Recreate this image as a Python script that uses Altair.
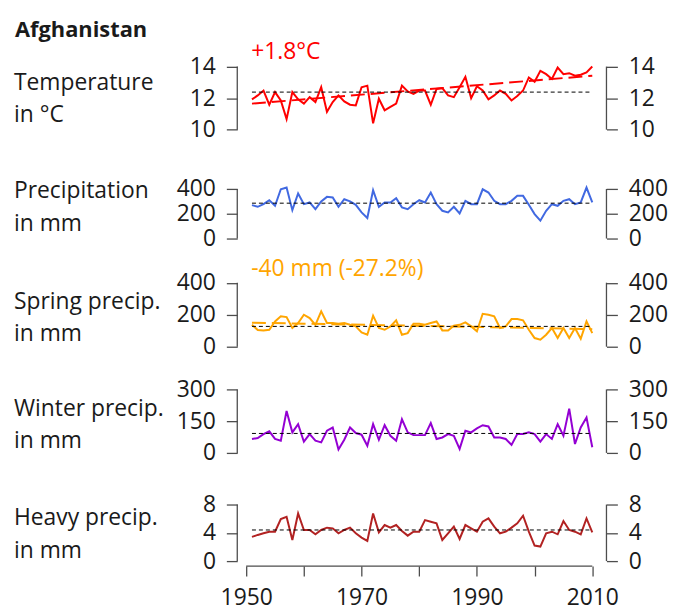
import altair as alt
import pandas as pd

# ---------------- data ----------------
years = list(range(1951, 2011))

temperature = [11.92, 12.17, 12.48, 11.58, 12.38, 11.85, 10.67, 12.38, 11.92, 11.65,
               12.06, 11.75, 12.69, 11.13, 11.75, 12.17, 11.79, 11.58, 11.54, 12.69,
               12.79, 10.40, 11.96, 11.23, 11.44, 11.65, 12.79, 12.42, 12.27, 12.48,
               12.48, 11.58, 12.58, 12.63, 12.17, 12.06, 12.69, 13.35, 12.00, 12.75,
               12.48, 11.92, 12.17, 12.48, 12.27, 11.85, 12.13, 12.48, 13.31, 13.04,
               13.73, 13.52, 13.21, 13.94, 13.52, 13.58, 13.42, 13.48, 13.63, 14.00]

precipitation = [269, 256, 277, 309, 264, 397, 411, 229, 363, 277,
                 291, 237, 299, 336, 331, 256, 317, 299, 272, 211,
                 165, 389, 256, 291, 291, 325, 251, 237, 277, 309,
                 291, 371, 277, 224, 211, 256, 203, 304, 277, 277,
                 397, 371, 304, 277, 277, 304, 344, 344, 272, 197,
                 144, 224, 277, 264, 304, 317, 277, 291, 411, 291]

spring = [137, 104, 102, 106, 158, 190, 185, 117, 148, 200,
          179, 137, 221, 148, 148, 144, 148, 137, 127, 90,
          75, 194, 117, 106, 127, 165, 75, 85, 144, 144,
          137, 148, 158, 102, 102, 131, 137, 152, 127, 96,
          206, 200, 190, 117, 127, 173, 173, 165, 106, 54,
          44, 75, 117, 54, 117, 54, 117, 50, 158, 85]

winter = [66, 70, 89, 102, 66, 58, 198, 97, 136, 53,
          89, 58, 50, 105, 120, 16, 62, 120, 94, 86,
          34, 136, 62, 131, 81, 58, 159, 97, 84, 84,
          84, 141, 66, 73, 89, 81, 19, 105, 97, 116,
          131, 125, 73, 73, 66, 38, 89, 89, 97, 89,
          53, 89, 66, 136, 81, 209, 42, 120, 167, 27]

heavy = [3.42, 3.70, 3.93, 4.16, 4.16, 5.94, 6.27, 2.99, 6.74, 4.40,
         4.40, 3.79, 4.40, 4.73, 4.63, 3.93, 4.40, 4.73, 3.93, 3.32,
         2.85, 6.74, 4.07, 5.10, 4.73, 5.10, 4.26, 3.60, 4.16, 4.16,
         5.80, 5.57, 5.33, 2.99, 3.93, 4.87, 3.13, 5.10, 4.63, 4.16,
         5.57, 6.04, 4.87, 3.93, 4.16, 4.73, 5.33, 6.41, 4.16, 2.20,
         2.06, 3.93, 4.16, 3.79, 5.66, 4.40, 4.16, 3.79, 6.04, 4.07]

means = [12.38, 285, 127, 92, 4.40]
temp_trend = [11.65, 13.42]      # fitted trend at 1951 and 2010
spring_trend = [150, 110]

panel_titles = [["Temperature", "in °C"], ["Precipitation", "in mm"],
                ["Spring precip.", "in mm"], ["Winter precip.", "in mm"],
                ["Heavy precip.", "in mm"]]
panel_ticks = [[10, 12, 14], [0, 200, 400], [0, 200, 400], [0, 150, 300], [0, 4, 8]]
panel_colors = ["#FF0000", "#4169E1", "#FFA500", "#9400D3", "#B22222"]
country = ["Afghanistan"]
temp_note = ["+1.8°C"]
spring_note = ["-40 mm (-27.2%)"]
x_ticks = [1950, 1960, 1970, 1980, 1990, 2000, 2010]

# ---------------- layout / style ----------------
FONT = "Open Sans"
TXT = "#1a1a1a"
AX = "#4d4d4d"
PLOT_LEFT = 239
W = 372
X_DOMAIN = [1948.45, 2012.46]
BANDS = [8, 158, 262, 368, 478, 568]
TICK_PX = [(64.7, 128.3), (188, 238), (282.5, 347), (390, 454), (506, 563)]
TITLE_FIRST = [80.5, 190, 301, 409, 519]   # middle of first title line (page px)
NOTE_Y = {0: 56.7, 2: 276}

xscale = alt.Scale(domain=X_DOMAIN, nice=False, zero=False)


def panel(i, values, trend=None, note=None, note_color=None, with_x_axis=False,
          header=None):
    ticks = panel_ticks[i]
    top_v, bot_v = ticks[-1], ticks[0]
    y_top, y_bot = TICK_PX[i]
    b0, b1 = BANDS[i], BANDS[i + 1]
    H = b1 - b0
    k = (y_bot - y_top) / (top_v - bot_v)
    dmax = top_v + (y_top - b0) / k
    dmin = bot_v - (b1 - y_bot) / k
    yscale = alt.Scale(domain=[dmin, dmax], nice=False, zero=False)
    color = panel_colors[i]

    common_axis = dict(values=ticks, domain=False, grid=False, tickSize=11,
                       tickColor=AX, tickWidth=1.3, labelFont=FONT,
                       labelFontSize=23, labelColor=TXT, labelPadding=11,
                       labelOverlap=False, labelFlush=False)
    left_axis = alt.Axis(orient="left", title=panel_titles[i], titleAngle=0,
                         titleAlign="left", titleBaseline="middle",
                         titleX=13.5 - PLOT_LEFT, titleY=TITLE_FIRST[i] - b0,
                         titleFont=FONT, titleFontSize=23,
                         titleFontWeight="normal", titleColor=TXT,
                         titleLineHeight=33, **common_axis)
    right_axis = alt.Axis(orient="right", title=None, **common_axis)

    if with_x_axis:
        x_axis = alt.Axis(values=x_ticks, format="d",
                          labelExpr="datum.value % 20 == 10 ? datum.label : ''",
                          domain=False, grid=False, tickSize=10, tickColor=AX,
                          tickWidth=1.3, labelFont=FONT, labelFontSize=23,
                          labelColor=TXT, labelPadding=10.5, labelFlush=False,
                          labelOverlap=False, title=None)
    else:
        x_axis = None

    df = pd.DataFrame({"year": years, "value": values})
    line = alt.Chart(df).mark_line(color=color, strokeWidth=2).encode(
        x=alt.X("year:Q", scale=xscale, axis=x_axis),
        y=alt.Y("value:Q", scale=yscale, axis=left_axis),
    )

    mean_df = pd.DataFrame({"x0": [years[0]], "x1": [years[-1]], "m": [means[i]]})
    mean_rule = alt.Chart(mean_df).mark_rule(
        color="black", strokeWidth=1, strokeDash=[4, 3]).encode(
        x=alt.X("x0:Q", scale=xscale, axis=None), x2="x1",
        y=alt.Y("m:Q", scale=yscale, axis=right_axis),
    )

    ext_df = pd.DataFrame({"lo": [bot_v], "hi": [top_v]})
    left_line = alt.Chart(ext_df).mark_rule(color=AX, strokeWidth=1.3).encode(
        x=alt.value(0), y=alt.Y("lo:Q", scale=yscale, axis=None), y2="hi")
    right_line = alt.Chart(ext_df).mark_rule(color=AX, strokeWidth=1.3).encode(
        x=alt.value(W), y=alt.Y("lo:Q", scale=yscale, axis=None), y2="hi")

    layers = [line]
    if trend is not None:
        tdf = pd.DataFrame({"x0": [years[0]], "x1": [years[-1]],
                            "t0": [trend[0]], "t1": [trend[1]]})
        layers.append(alt.Chart(tdf).mark_rule(
            color=color, strokeWidth=2, strokeDash=[14, 6]).encode(
            x=alt.X("x0:Q", scale=xscale, axis=None), x2="x1",
            y=alt.Y("t0:Q", scale=yscale, axis=None), y2="t1"))
    layers += [mean_rule, left_line, right_line]

    if note is not None:
        ndf = pd.DataFrame({"t": note})
        layers.append(alt.Chart(ndf).mark_text(
            align="left", baseline="alphabetic", font=FONT, fontSize=23,
            color=note_color).encode(
            x=alt.value(14), y=alt.value(NOTE_Y[i] - b0), text="t:N"))

    if header is not None:
        hdf = pd.DataFrame({"t": header})
        layers.append(alt.Chart(hdf).mark_text(
            align="left", baseline="alphabetic", font=FONT, fontSize=22,
            fontWeight="bold", color=TXT).encode(
            x=alt.value(15 - PLOT_LEFT), y=alt.value(35 - b0), text="t:N"))

    if with_x_axis:
        xl = pd.DataFrame({"x0": [x_ticks[0]], "x1": [x_ticks[-1]]})
        layers.append(alt.Chart(xl).mark_rule(color=AX, strokeWidth=1.3).encode(
            x=alt.X("x0:Q", scale=xscale, axis=None), x2="x1",
            y=alt.value(H)))

    return alt.layer(*layers).resolve_axis(y="independent", x="independent").properties(
        width=W, height=H)


p1 = panel(0, temperature, trend=temp_trend, note=temp_note,
           note_color="#FF0000", header=country)
p2 = panel(1, precipitation)
p3 = panel(2, spring, trend=spring_trend, note=spring_note, note_color="#FFA500")
p4 = panel(3, winter)
p5 = panel(4, heavy, with_x_axis=True)

chart = alt.vconcat(p1, p2, p3, p4, p5, spacing=0, bounds="flush").properties(
    padding={"left": 5, "top": 0, "right": 0, "bottom": 0}
).configure_view(strokeWidth=0)

chart.save("out.html", embed_options={"renderer": "svg", "actions": False})
